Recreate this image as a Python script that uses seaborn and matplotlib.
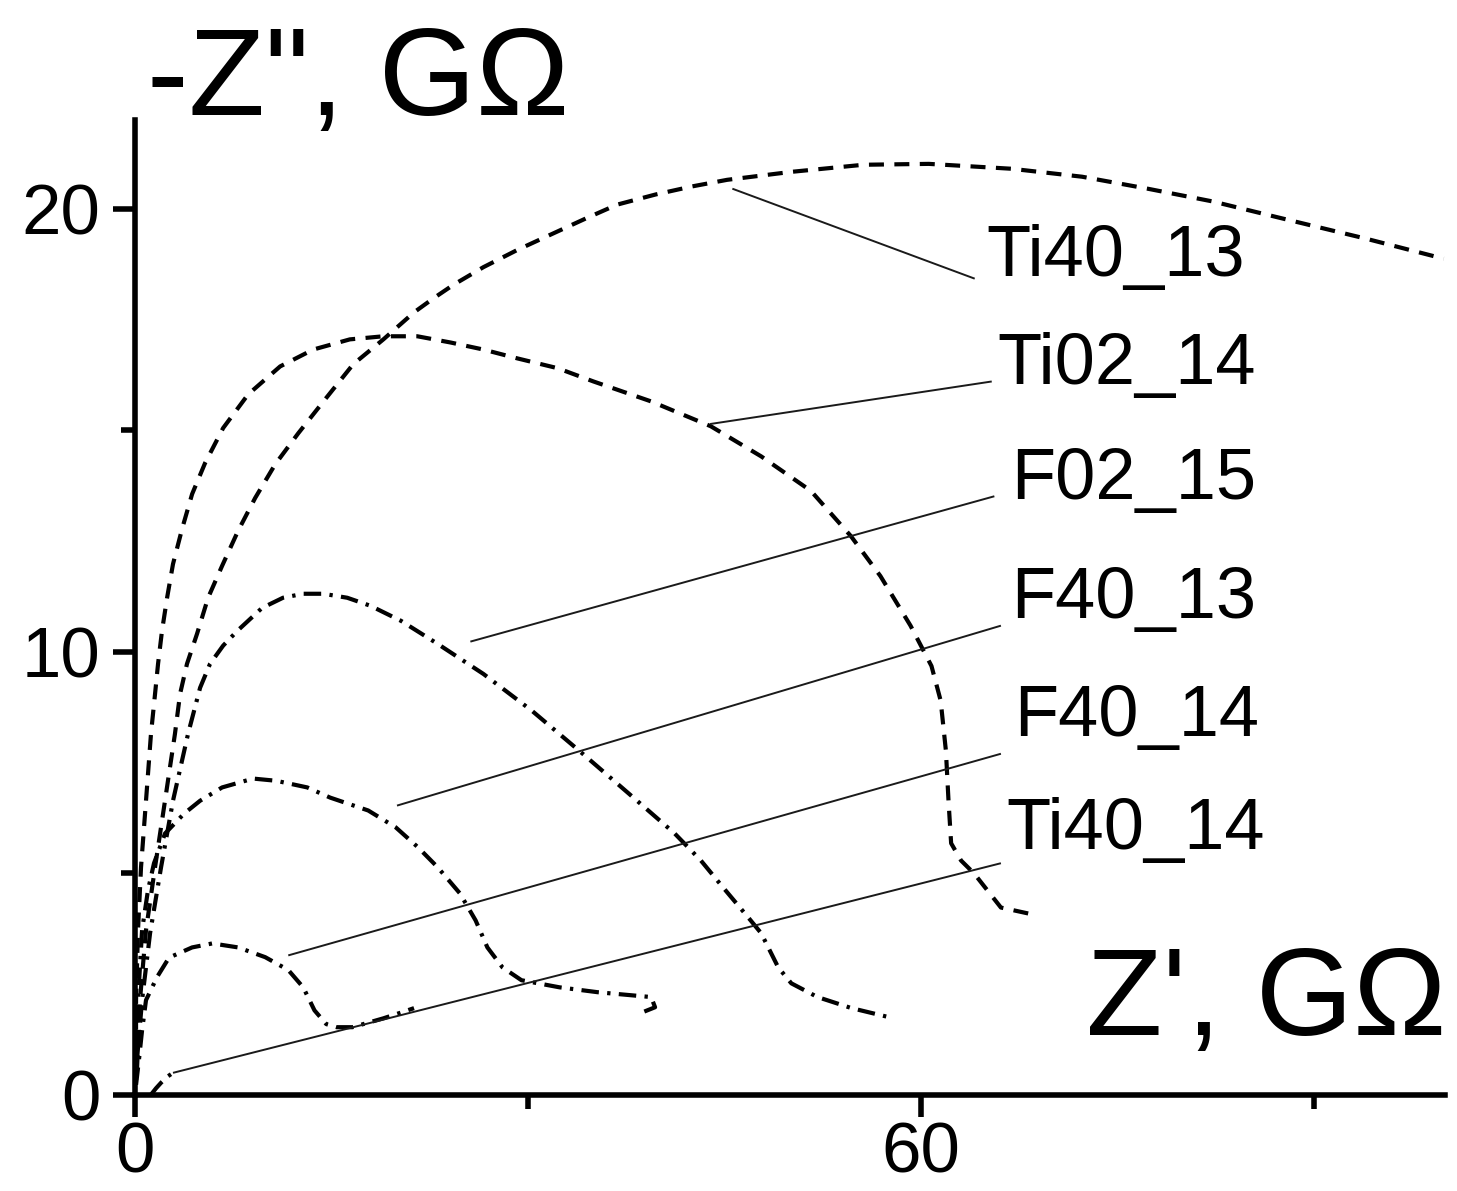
import matplotlib
matplotlib.use("Agg")
import matplotlib.pyplot as plt
from matplotlib.ticker import MultipleLocator, NullFormatter
import seaborn as sns
import pandas as pd

# Impedance spectra (Nyquist form): Z' and -Z'' in GOhm for each sample
ti40_13_x = [0.15, 0.38, 0.84, 1.53, 2.29, 3.05, 3.44, 3.97, 4.74, 5.58, 6.65, 7.87, 9.17, 10.7,
             12.46, 14.52, 16.66, 18.96, 21.3, 22.8, 24.3, 26.6, 29.2, 31.7, 34.5, 36.8, 39.75,
             42.5, 45.2, 50.1, 55.6, 60.6, 66.9, 72.3, 77.3, 82.3, 87.7, 94.0, 99.9]
ti40_13_y = [0.56, 2.14, 3.72, 5.14, 6.64, 8.15, 9.05, 9.73, 10.41, 11.22, 11.94, 12.73, 13.47, 14.23,
             14.93, 15.70, 16.49, 17.05, 17.66, 17.98, 18.28, 18.68, 19.07, 19.41, 19.79, 20.09, 20.32,
             20.50, 20.65, 20.83, 20.99, 21.01, 20.90, 20.72, 20.45, 20.16, 19.77, 19.32, 18.87]

ti02_14_x = [0.08, 0.08, 0.23, 0.46, 0.84, 1.22, 1.53, 1.76, 2.06, 2.45, 2.9, 3.59, 4.36, 5.35,
             6.73, 8.64, 11.08, 13.6, 16.4, 18.96, 21.55, 24.08, 26.6, 29.2, 32.26, 35.0,
             39.4, 43.95, 47.8, 51.6, 54.65, 56.9, 59.2, 60.8, 61.5, 61.9, 62.1, 62.3, 63.06,
             64.05, 66.1, 68.9]
ti02_14_y = [0.34, 2.14, 3.72, 5.14, 6.64, 8.15, 9.05, 9.73, 10.47, 11.22, 11.98, 12.77, 13.56, 14.26,
             15.05, 15.81, 16.44, 16.82, 17.05, 17.12, 17.12, 16.98, 16.82, 16.62, 16.40, 16.10,
             15.65, 15.09, 14.41, 13.63, 12.61, 11.71, 10.59, 9.68, 8.90, 7.77, 6.64, 5.68, 5.29,
             5.0, 4.23, 4.05]

f02_15_x = [0.15, 0.54, 1.15, 1.99, 2.9, 4.05, 4.97, 5.73, 6.73, 7.8, 9.7, 11.3, 12.84, 14.37,
            16.2, 17.96, 20.3, 23.1, 26.6, 30.3, 33.9, 37.7, 41.2, 43.2, 44.9, 46.8, 47.8, 49.1,
            50.1, 52.1, 54.7, 57.5]
f02_15_y = [0.79, 2.14, 3.65, 5.14, 6.64, 8.15, 9.19, 9.73, 10.14, 10.47, 10.99, 11.22, 11.31, 11.31,
            11.22, 11.04, 10.70, 10.18, 9.50, 8.67, 7.77, 6.80, 5.90, 5.29, 4.68, 4.01, 3.65, 2.88,
            2.52, 2.21, 1.96, 1.76]

f40_13_x = [0.08, 0.23, 0.54, 0.99, 1.45, 2.29, 3.75, 4.97, 6.65, 9.02, 10.78, 13.15, 14.9,
            17.8, 19.9, 21.6, 23.1, 24.8, 26.0, 26.9, 28.05, 29.5, 32.4, 35.3, 39.4, 39.7, 38.6]
f40_13_y = [0.79, 2.14, 3.72, 4.62, 5.23, 5.90, 6.35, 6.64, 6.94, 7.14, 7.09, 6.94, 6.71,
            6.42, 6.04, 5.59, 5.14, 4.55, 3.94, 3.33, 2.88, 2.59, 2.43, 2.32, 2.21, 1.98, 1.85]

f40_14_x = [0.08, 0.3, 0.54, 0.84, 1.68, 2.6, 4.36, 5.9, 7.87, 9.94, 11.7, 12.84, 13.7, 14.6,
            15.4, 16.6, 18.96, 20.2, 21.3]
f40_14_y = [0.23, 0.79, 1.46, 2.14, 2.66, 3.10, 3.33, 3.42, 3.33, 3.11, 2.82, 2.43, 1.91, 1.60,
            1.53, 1.53, 1.73, 1.85, 1.96]

ti40_14_x = [1.2, 1.6, 2.0, 2.5, 2.9]
ti40_14_y = [0.0, 0.15, 0.28, 0.42, 0.50]

sample_names = ["Ti40_13", "Ti02_14", "F02_15", "F40_13", "F40_14", "Ti40_14"]
series_x = [ti40_13_x, ti02_14_x, f02_15_x, f40_13_x, f40_14_x, ti40_14_x]
series_y = [ti40_13_y, ti02_14_y, f02_15_y, f40_13_y, f40_14_y, ti40_14_y]

frames = []
for name, xs, ys in zip(sample_names, series_x, series_y):
    frames.append(pd.DataFrame({"sample": name, "Zre": xs, "Zim": ys}))
spectra = pd.concat(frames, ignore_index=True)

sns.set_style("ticks")
plt.rcParams["font.family"] = ["Liberation Sans", "DejaVu Sans"]
plt.rcParams["text.color"] = "black"
plt.rcParams["xtick.color"] = "black"
plt.rcParams["ytick.color"] = "black"
plt.rcParams["axes.labelcolor"] = "black"

fig = plt.figure(figsize=(14.57, 11.91), dpi=100)
ax = fig.add_axes([135 / 1457, 1 - 1095 / 1191, 1310 / 1457, 975 / 1191])

dashed = (0, (3.6, 2.5))
dashdot = (0, (4.2, 2.0, 0.8, 2.0))
line_styles = {"Ti40_13": dashed, "Ti02_14": dashed, "F02_15": dashdot,
               "F40_13": dashdot, "F40_14": dashdot, "Ti40_14": dashdot}

for name in sample_names:
    sub = spectra[spectra["sample"] == name]
    sns.lineplot(data=sub, x="Zre", y="Zim", sort=False, estimator=None, ax=ax,
                 color="black", linewidth=3.0, linestyle=line_styles[name])

# leader lines from each curve to its label (start on curve, end at label)
leader_start = {"Ti40_13": (45.6, 20.45), "Ti02_14": (43.9, 15.14), "F02_15": (25.6, 10.23),
                "F40_13": (20.0, 6.53), "F40_14": (11.7, 3.15), "Ti40_14": (2.9, 0.50)}
leader_end = {"Ti40_13": (64.1, 18.42), "Ti02_14": (65.4, 16.10), "F02_15": (65.6, 13.51),
              "F40_13": (66.1, 10.59), "F40_14": (66.1, 7.70), "Ti40_14": (66.1, 5.23)}
label_pos = {"Ti40_13": (65.0, 18.47), "Ti02_14": (65.8, 16.04), "F02_15": (66.9, 13.45),
             "F40_13": (66.9, 10.77), "F40_14": (67.1, 8.11), "Ti40_14": (66.5, 5.56)}

for name in sample_names:
    (x0, y0), (x1, y1) = leader_start[name], leader_end[name]
    ax.plot([x0, x1], [y0, y1], color="#1a1a1a", linewidth=1.4, solid_capstyle="butt")
    lx, ly = label_pos[name]
    ax.text(lx, ly, name, fontsize=52, ha="left", va="baseline", color="black")

ax.set_xlim(0, 100)
ax.set_ylim(0, 22)
ax.xaxis.set_major_locator(MultipleLocator(60))
ax.xaxis.set_minor_locator(MultipleLocator(30))
ax.yaxis.set_major_locator(MultipleLocator(10))
ax.yaxis.set_minor_locator(MultipleLocator(5))
ax.xaxis.set_minor_formatter(NullFormatter())
ax.yaxis.set_minor_formatter(NullFormatter())

ax.tick_params(axis="both", which="major", direction="out", length=16, width=4,
               labelsize=51, color="black", labelcolor="black")
ax.tick_params(axis="both", which="minor", direction="out", length=10, width=4, color="black")
ax.tick_params(axis="x", which="major", pad=3)
ax.tick_params(axis="y", which="major", pad=9)

for side in ("top", "right"):
    ax.spines[side].set_visible(False)
for side in ("left", "bottom"):
    ax.spines[side].set_linewidth(4)
    ax.spines[side].set_color("black")

ax.set_xlabel("")
ax.set_ylabel("")

fig.text(147 / 1457, 1 - 115 / 1191, "-Z\", G\u03a9", fontsize=90, ha="left", va="baseline",
         color="black")
fig.text(1447 / 1457, 1 - 1035 / 1191, "Z', G\u03a9", fontsize=90, ha="right", va="baseline",
         color="black")

fig.savefig("out.png", dpi=100, facecolor="white")
